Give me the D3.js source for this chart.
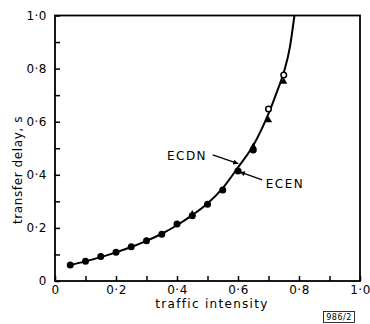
<!DOCTYPE html>
<html>
<head>
<meta charset="utf-8">
<script src="https://cdn.jsdelivr.net/npm/d3@7"></script>
<style>
  body { margin: 0; background: #fff; }
  svg text { font-family: "DejaVu Sans", sans-serif; fill: #000; }
</style>
</head>
<body>
<svg id="chart" width="370" height="324"></svg>
<script>
// smooth fitted curve
const curveX = [0.05, 0.10, 0.15, 0.20, 0.25, 0.30, 0.35, 0.40, 0.45, 0.50, 0.55, 0.60, 0.65, 0.70, 0.73, 0.75, 0.77, 0.785];
const curveY = [0.060, 0.074, 0.090, 0.108, 0.128, 0.151, 0.178, 0.210, 0.248, 0.292, 0.350, 0.428, 0.510, 0.630, 0.720, 0.785, 0.880, 1.0];

// filled circles
const filledX = [0.05, 0.10, 0.15, 0.20, 0.25, 0.30, 0.35, 0.40, 0.45, 0.50, 0.55, 0.60, 0.65];
const filledY = [0.060, 0.074, 0.092, 0.108, 0.129, 0.152, 0.176, 0.215, 0.246, 0.289, 0.343, 0.414, 0.493];
// open circles
const openX = [0.70, 0.75];
const openY = [0.648, 0.776];
// triangles
const triX = [0.45, 0.65, 0.70, 0.75];
const triY = [0.252, 0.506, 0.606, 0.751];

const xTicks = [0, 0.1, 0.2, 0.3, 0.4, 0.5, 0.6, 0.7, 0.8, 0.9, 1.0];
const yTicks = [0, 0.1, 0.2, 0.3, 0.4, 0.5, 0.6, 0.7, 0.8, 0.9, 1.0];
const labelled = [0, 0.2, 0.4, 0.6, 0.8, 1.0];

const svg = d3.select('#chart');
const x = d3.scaleLinear().domain([0, 1]).range([55, 360]);
const y = d3.scaleLinear().domain([0, 1]).range([281, 15.5]);

const fmt = function (d) {
  if (d === 0) return '0';
  return d3.format('.1f')(d).replace('.', '\u00b7');
};
const tickLabel = function (d) {
  return labelled.some(v => Math.abs(v - d) < 1e-9) ? fmt(d) : '';
};

// x axis (ticks inward)
const xAxis = d3.axisBottom(x)
  .tickValues(xTicks)
  .tickSizeInner(-5)
  .tickSizeOuter(0)
  .tickFormat(tickLabel);
const gx = svg.append('g').attr('transform', 'translate(0,' + y(0) + ')').call(xAxis);
gx.select('.domain').remove();
gx.selectAll('line').attr('stroke', '#000').attr('stroke-width', 1.5);
gx.selectAll('text').attr('y', 4).attr('dy', '0.71em').style('font-size', '12px').style('letter-spacing', '0.5px');

const yAxis = d3.axisLeft(y)
  .tickValues(yTicks)
  .tickSizeInner(-5)
  .tickSizeOuter(0)
  .tickFormat(tickLabel);
const gy = svg.append('g').attr('transform', 'translate(' + x(0) + ',0)').call(yAxis);
gy.select('.domain').remove();
gy.selectAll('line').attr('stroke', '#000').attr('stroke-width', 1.5);
gy.selectAll('text').attr('x', -8).style('font-size', '12px').style('letter-spacing', '0.5px');

// frame
svg.append('rect')
  .attr('x', x(0)).attr('y', y(1))
  .attr('width', x(1) - x(0)).attr('height', y(0) - y(1))
  .attr('fill', 'none').attr('stroke', '#000').attr('stroke-width', 1.8);

// curve
const curvePts = curveX.map((d, i) => [d, curveY[i]]);
const line = d3.line()
  .x(d => x(d[0]))
  .y(d => y(d[1]))
  .curve(d3.curveMonotoneX);
svg.append('path')
  .datum(curvePts)
  .attr('d', line)
  .attr('fill', 'none')
  .attr('stroke', '#000')
  .attr('stroke-width', 2);

// markers
svg.selectAll('.filled')
  .data(filledX.map((d, i) => [d, filledY[i]]))
  .enter().append('circle')
  .attr('class', 'filled')
  .attr('cx', d => x(d[0])).attr('cy', d => y(d[1]))
  .attr('r', 3.5).attr('fill', '#000');

svg.selectAll('.tri')
  .data(triX.map((d, i) => [d, triY[i]]))
  .enter().append('path')
  .attr('class', 'tri')
  .attr('transform', d => 'translate(' + x(d[0]) + ',' + y(d[1]) + ')')
  .attr('d', d3.symbol().type(d3.symbolTriangle).size(22))
  .attr('fill', '#000');

svg.selectAll('.open')
  .data(openX.map((d, i) => [d, openY[i]]))
  .enter().append('circle')
  .attr('class', 'open')
  .attr('cx', d => x(d[0])).attr('cy', d => y(d[1]))
  .attr('r', 2.8).attr('fill', '#fff')
  .attr('stroke', '#000').attr('stroke-width', 1.5);

// annotations with arrows
const defs = svg.append('defs');
defs.append('marker')
  .attr('id', 'arr')
  .attr('viewBox', '0 0 10 10')
  .attr('refX', 10).attr('refY', 5)
  .attr('markerWidth', 7).attr('markerHeight', 5)
  .attr('orient', 'auto')
  .attr('markerUnits', 'userSpaceOnUse')
  .append('path').attr('d', 'M0,0L10,5L0,10Z').attr('fill', '#000');

const notes = [
  { name: 'ECDN', from: [0.517, 0.475], to: [0.601, 0.442], tx: 0.367, ty: 0.455 },
  { name: 'ECEN', from: [0.679, 0.381], to: [0.606, 0.411], tx: 0.691, ty: 0.352 }
];
notes.forEach(function (n) {
  svg.append('line')
    .attr('x1', x(n.from[0])).attr('y1', y(n.from[1]))
    .attr('x2', x(n.to[0])).attr('y2', y(n.to[1]))
    .attr('stroke', '#000').attr('stroke-width', 1.2)
    .attr('marker-end', 'url(#arr)');
  svg.append('text')
    .attr('x', x(n.tx)).attr('y', y(n.ty))
    .attr('text-anchor', 'start')
    .style('font-size', '12px')
    .style('letter-spacing', '1.5px')
    .text(n.name);
});

// axis titles
svg.append('text')
  .attr('x', 212).attr('y', 308)
  .attr('text-anchor', 'middle')
  .style('font-size', '12px')
  .style('letter-spacing', '1.3px')
  .text('traffic intensity');
svg.append('text')
  .attr('transform', 'translate(22,170) rotate(-90)')
  .attr('text-anchor', 'middle')
  .style('font-size', '12px')
  .style('letter-spacing', '0.6px')
  .text('transfer delay, s');

// figure number box
svg.append('rect')
  .attr('x', 323.5).attr('y', 311.5).attr('width', 31).attr('height', 11)
  .attr('fill', 'none').attr('stroke', '#000').attr('stroke-width', 0.8);
svg.append('text')
  .attr('x', 339).attr('y', 320)
  .attr('text-anchor', 'middle')
  .style('font-size', '8px')
  .style('letter-spacing', '0.5px')
  .text('986/2');
</script>
</body>
</html>
